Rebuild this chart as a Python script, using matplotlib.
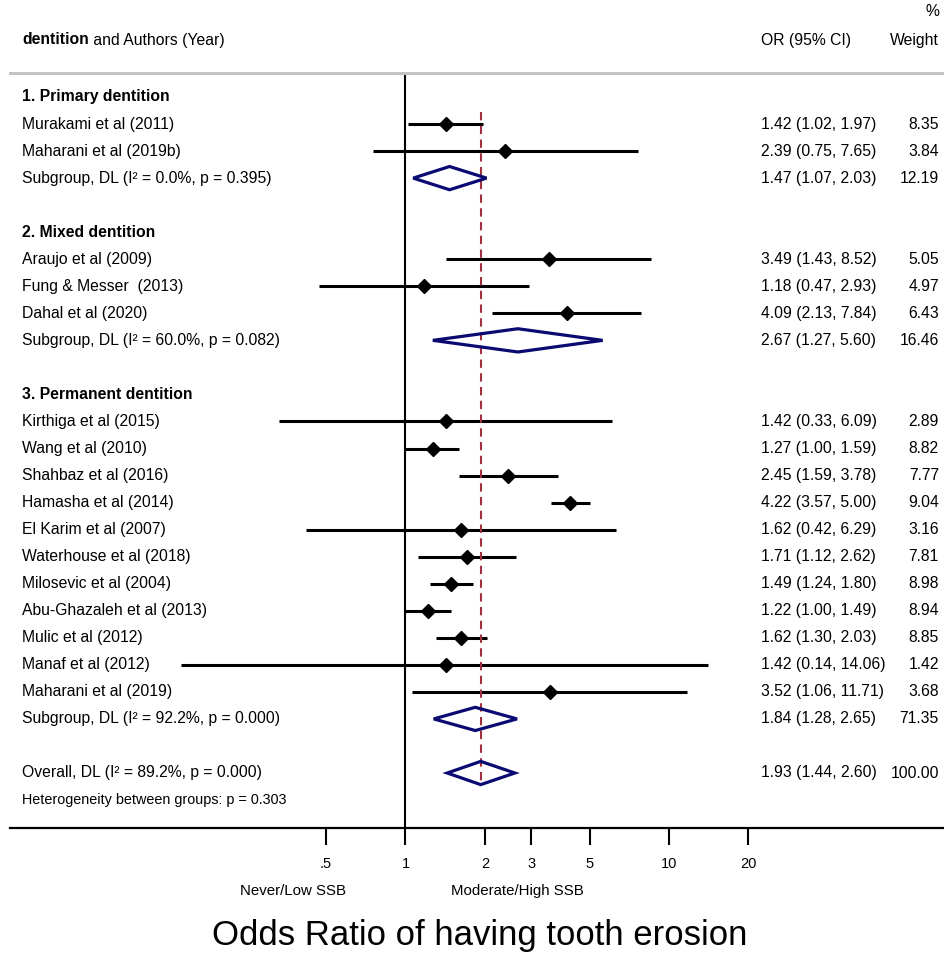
import matplotlib
matplotlib.use("Agg")
import matplotlib.pyplot as plt
from matplotlib.patches import Polygon

plt.rcParams['font.family'] = ['Liberation Sans', 'DejaVu Sans']

# data
group_names = ["1. Primary dentition", "2. Mixed dentition", "3. Permanent dentition"]
study_group = [0, 0, 1, 1, 1, 2, 2, 2, 2, 2, 2, 2, 2, 2, 2, 2]
study_labels = ["Murakami et al (2011)", "Maharani et al (2019b)",
                "Araujo et al (2009)", "Fung & Messer  (2013)", "Dahal et al (2020)",
                "Kirthiga et al (2015)", "Wang et al (2010)", "Shahbaz et al (2016)",
                "Hamasha et al (2014)", "El Karim et al (2007)", "Waterhouse et al (2018)",
                "Milosevic et al (2004)", "Abu-Ghazaleh et al (2013)", "Mulic et al (2012)",
                "Manaf et al (2012)", "Maharani et al (2019)"]
study_or = [1.42, 2.39, 3.49, 1.18, 4.09, 1.42, 1.27, 2.45, 4.22, 1.62, 1.71, 1.49, 1.22, 1.62, 1.42, 3.52]
study_lo = [1.02, 0.75, 1.43, 0.47, 2.13, 0.33, 1.00, 1.59, 3.57, 0.42, 1.12, 1.24, 1.00, 1.30, 0.14, 1.06]
study_hi = [1.97, 7.65, 8.52, 2.93, 7.84, 6.09, 1.59, 3.78, 5.00, 6.29, 2.62, 1.80, 1.49, 2.03, 14.06, 11.71]
study_wt = [8.35, 3.84, 5.05, 4.97, 6.43, 2.89, 8.82, 7.77, 9.04, 3.16, 7.81, 8.98, 8.94, 8.85, 1.42, 3.68]

sub_i2 = ["0.0", "60.0", "92.2"]
sub_p = ["0.395", "0.082", "0.000"]
sub_or = [1.47, 2.67, 1.84]
sub_lo = [1.07, 1.27, 1.28]
sub_hi = [2.03, 5.60, 2.65]
sub_wt = [12.19, 16.46, 71.35]

overall_or, overall_lo, overall_hi, overall_wt = 1.93, 1.44, 2.60, 100.00
overall_i2, overall_p = "89.2", "0.000"
het_between_p = "0.303"

tick_vals = [0.5, 1, 2, 3, 5, 10, 20]
tick_labels = [".5", "1", "2", "3", "5", "10", "20"]

W, H = 945, 959
fig = plt.figure(figsize=(W / 100, H / 100), dpi=100)
row_h = 27.04
y0 = 97  # pixel y of first row
ax_top, ax_bot, ax_left, ax_right = 73, 828, 10, 945
ax = fig.add_axes([ax_left / W, (H - ax_bot) / H, (ax_right - ax_left) / W, (ax_bot - ax_top) / H])
ax.set_xscale('log')
px_dec = 263.5
x1 = 405.5
ax.set_xlim(10 ** ((ax_left - x1) / px_dec), 10 ** ((ax_right - x1) / px_dec))
ax.set_ylim((ax_bot - y0) / row_h, (ax_top - y0) / row_h)

navy = '#0a0a72'
fs = 11.3
tr = ax.get_yaxis_transform()
x_lab = (22 - ax_left) / (ax_right - ax_left)
x_or = (761 - ax_left) / (ax_right - ax_left)
x_wt = (939 - ax_left) / (ax_right - ax_left)


def diamond(y, es, lo, hi):
    h = 0.43
    ax.add_patch(Polygon([(lo, y), (es, y - h), (hi, y), (es, y + h)], closed=True,
                         fill=False, edgecolor=navy, lw=2.3, zorder=4))


def right_cols(y, es, lo, hi, wt):
    ax.text(x_or, y, f"{es:.2f} ({lo:.2f}, {hi:.2f})", transform=tr, ha='left', va='center', fontsize=fs)
    ax.text(x_wt, y, f"{wt:.2f}", transform=tr, ha='right', va='center', fontsize=fs)


row = 0
for g, gname in enumerate(group_names):
    ax.text(x_lab, row, gname, transform=tr, ha='left', va='center', fontsize=fs, fontweight='bold')
    row += 1
    for i in range(len(study_labels)):
        if study_group[i] != g:
            continue
        ax.plot([study_lo[i], study_hi[i]], [row, row], color='black', lw=2.2, solid_capstyle='butt', zorder=3)
        ax.plot([study_or[i]], [row], marker='D', color='black', ms=7, zorder=5)
        ax.text(x_lab, row, study_labels[i], transform=tr, ha='left', va='center', fontsize=fs)
        right_cols(row, study_or[i], study_lo[i], study_hi[i], study_wt[i])
        row += 1
    diamond(row, sub_or[g], sub_lo[g], sub_hi[g])
    ax.text(x_lab, row, f"Subgroup, DL (I\u00b2 = {sub_i2[g]}%, p = {sub_p[g]})", transform=tr,
            ha='left', va='center', fontsize=fs)
    right_cols(row, sub_or[g], sub_lo[g], sub_hi[g], sub_wt[g])
    row += 2

diamond(row, overall_or, overall_lo, overall_hi)
ax.text(x_lab, row, f"Overall, DL (I\u00b2 = {overall_i2}%, p = {overall_p})", transform=tr,
        ha='left', va='center', fontsize=fs)
right_cols(row, overall_or, overall_lo, overall_hi, overall_wt)
overall_row = row
row += 1
ax.text(x_lab, row, f"Heterogeneity between groups: p = {het_between_p}", transform=tr,
        ha='left', va='center', fontsize=10.4)

# reference lines
ax.axvline(1, color='black', lw=1.5, zorder=2)
ax.plot([overall_or, overall_or], [0.55, overall_row + 0.43], color='#a33040', lw=1.5,
        linestyle=(0, (4, 2.6)), zorder=3)

# spines and ticks
for s in ['left', 'right']:
    ax.spines[s].set_visible(False)
ax.spines['top'].set_color('#c4c4c4')
ax.spines['top'].set_linewidth(2.2)
ax.spines['bottom'].set_linewidth(1.6)
ax.set_yticks([])
ax.xaxis.set_minor_locator(matplotlib.ticker.NullLocator())
ax.set_xticks(tick_vals)
ax.set_xticklabels(tick_labels, fontsize=10.5)
ax.tick_params(axis='x', direction='out', length=12, width=1.5, pad=9)

# header
hdr_y = (40 - y0) / row_h
t = ax.text(x_lab, hdr_y, "dentition", transform=tr, ha='left', va='center', fontsize=fs, fontweight='bold')
ax.annotate(" and Authors (Year)", xy=(1, 0.5), xycoords=t, ha='left', va='center', fontsize=fs)
ax.text(x_or, hdr_y, "OR (95% CI)", transform=tr, ha='left', va='center', fontsize=fs)
ax.text(x_wt, hdr_y, "Weight", transform=tr, ha='right', va='center', fontsize=fs)
ax.text(x_wt, (12 - y0) / row_h, "%", transform=tr, ha='right', va='center', fontsize=fs)

# favours labels and title
fav_y = (891 - y0) / row_h
ax.text((293 - ax_left) / (ax_right - ax_left), fav_y, "Never/Low SSB", transform=tr,
        ha='center', va='center', fontsize=10.8)
ax.text((517 - ax_left) / (ax_right - ax_left), fav_y, "Moderate/High SSB", transform=tr,
        ha='center', va='center', fontsize=10.8)
fig.text(480 / W, 1 - 935 / H, "Odds Ratio of having tooth erosion", ha='center', va='center', fontsize=25)

fig.savefig("out.png", dpi=100)
